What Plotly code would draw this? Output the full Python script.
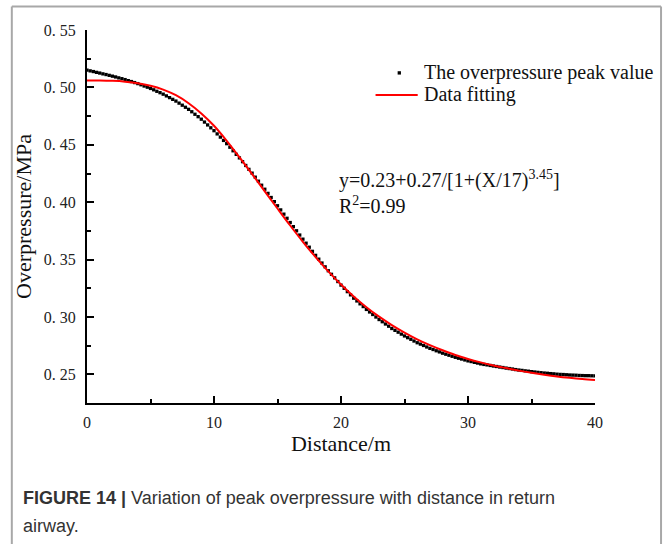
import plotly.graph_objects as go

# ---- data ----
distance_dots = [i * 0.25 for i in range(161)]
overpressure_dots = [
    0.5150, 0.5144, 0.5138, 0.5131, 0.5125, 0.5118, 0.5112, 0.5105,
    0.5098, 0.5091, 0.5083, 0.5076, 0.5068, 0.5059, 0.5051, 0.5042,
    0.5033, 0.5023, 0.5012, 0.5002, 0.4991, 0.4979, 0.4966, 0.4954,
    0.4941, 0.4926, 0.4911, 0.4896, 0.4881, 0.4863, 0.4845, 0.4827,
    0.4809, 0.4788, 0.4766, 0.4745, 0.4723, 0.4698, 0.4673, 0.4648,
    0.4623, 0.4595, 0.4567, 0.4538, 0.4510, 0.4479, 0.4448, 0.4417,
    0.4386, 0.4353, 0.4320, 0.4286, 0.4253, 0.4218, 0.4183, 0.4148,
    0.4113, 0.4077, 0.4041, 0.4005, 0.3969, 0.3933, 0.3896, 0.3860,
    0.3823, 0.3787, 0.3751, 0.3714, 0.3678, 0.3643, 0.3608, 0.3572,
    0.3537, 0.3504, 0.3470, 0.3437, 0.3403, 0.3372, 0.3341, 0.3309,
    0.3278, 0.3250, 0.3221, 0.3193, 0.3164, 0.3140, 0.3115, 0.3091,
    0.3066, 0.3044, 0.3022, 0.3000, 0.2978, 0.2959, 0.2939, 0.2920,
    0.2900, 0.2884, 0.2868, 0.2851, 0.2835, 0.2820, 0.2806, 0.2791,
    0.2776, 0.2764, 0.2752, 0.2739, 0.2727, 0.2717, 0.2706, 0.2696,
    0.2685, 0.2676, 0.2667, 0.2658, 0.2649, 0.2641, 0.2634, 0.2626,
    0.2618, 0.2612, 0.2605, 0.2599, 0.2592, 0.2587, 0.2583, 0.2578,
    0.2573, 0.2569, 0.2564, 0.2560, 0.2555, 0.2551, 0.2547, 0.2542,
    0.2538, 0.2535, 0.2531, 0.2528, 0.2524, 0.2521, 0.2518, 0.2515,
    0.2512, 0.2510, 0.2507, 0.2505, 0.2502, 0.2500, 0.2499, 0.2497,
    0.2495, 0.2494, 0.2493, 0.2491, 0.2490, 0.2489, 0.2489, 0.2488,
    0.2487,
]

distance_fit = list(range(41))
overpressure_fit = [
    0.5060, 0.5060, 0.5057, 0.5050, 0.5037, 0.5015, 0.4981, 0.4932, 0.4862, 0.4773,
    0.4666, 0.4535, 0.4392, 0.4245, 0.4095, 0.3945, 0.3797, 0.3655, 0.3522, 0.3398,
    0.3283, 0.3179, 0.3085, 0.3003, 0.2930, 0.2865, 0.2806, 0.2755, 0.2710, 0.2669,
    0.2635, 0.2605, 0.2578, 0.2555, 0.2533, 0.2514, 0.2497, 0.2482, 0.2470, 0.2460,
    0.2452,
]

x_ticks = [0, 10, 20, 30, 40]
y_ticks = [0.25, 0.30, 0.35, 0.40, 0.45, 0.50, 0.55]
y_tick_text = ["0. 25", "0. 30", "0. 35", "0. 40", "0. 45", "0. 50", "0. 55"]

legend_names = ["The overpressure peak value", "Data fitting"]

SERIF = "Liberation Serif, Times New Roman, serif"
SANS = "Liberation Sans, Arial, sans-serif"
TXT = "#111"

fig = go.Figure()
fig.add_trace(go.Scatter(
    x=distance_dots, y=overpressure_dots, mode="markers",
    name=legend_names[0], showlegend=False,
    marker=dict(symbol="square", size=3.3, color="black", line=dict(width=0)),
))
fig.add_trace(go.Scatter(
    x=distance_fit, y=overpressure_fit, mode="lines", line_shape="spline",
    name=legend_names[1], showlegend=False,
    line=dict(color="#ff0000", width=2),
))

axis_common = dict(
    showline=True, linecolor="black", linewidth=2, mirror=False,
    ticks="inside", tickcolor="black", tickwidth=1.8, ticklen=7,
    showgrid=False, zeroline=False,
    tickfont=dict(family=SERIF, size=16, color="#222"),
)

fig.update_xaxes(
    range=[0, 40], tickvals=x_ticks,
    minor=dict(ticks="inside", dtick=5, ticklen=4, tickwidth=1.8, tickcolor="black"),
    title=dict(text="Distance/m", font=dict(family=SERIF, size=22, color=TXT), standoff=2),
    ticklabelstandoff=4,
    **axis_common,
)
fig.update_yaxes(
    range=[0.2251, 0.55], tickvals=y_ticks, ticktext=y_tick_text,
    minor=dict(ticks="inside", dtick=0.025, tick0=0.25, ticklen=4, tickwidth=1.8, tickcolor="black"),
    title=dict(text="Overpressure/MPa", font=dict(family=SERIF, size=22, color=TXT), standoff=6),
    ticklabelstandoff=6,
    **axis_common,
)

# manual legend (matches the reference's long red sample line)
leg_y1, leg_y2 = 0.885, 0.826
fig.add_shape(type="rect", xref="paper", yref="paper",
              x0=0.6115, x1=0.6180, y0=leg_y1 - 0.0045, y1=leg_y1 + 0.0045,
              fillcolor="black", line=dict(width=0))
fig.add_shape(type="line", xref="paper", yref="paper",
              x0=0.568, x1=0.651, y0=leg_y2, y1=leg_y2,
              line=dict(color="#ff0000", width=2))

fig.update_layout(
    width=667, height=544,
    margin=dict(l=87, r=72, t=30, b=141, pad=0),
    paper_bgcolor="white", plot_bgcolor="white",
    showlegend=False,
    annotations=[
        dict(xref="paper", yref="paper", x=0.659, y=leg_y1, xanchor="left", yanchor="middle",
             text=legend_names[0], showarrow=False,
             font=dict(family=SERIF, size=20, color=TXT)),
        dict(xref="paper", yref="paper", x=0.659, y=leg_y2, xanchor="left", yanchor="middle",
             text=legend_names[1], showarrow=False,
             font=dict(family=SERIF, size=20, color=TXT)),
        dict(xref="paper", yref="paper", x=0.492, y=0.600, xanchor="left", yanchor="middle",
             text="y=0.23+0.27/[1+(X/17)<sup>3.45</sup>]", showarrow=False,
             font=dict(family=SERIF, size=20, color=TXT)),
        dict(xref="paper", yref="paper", x=0.492, y=0.531, xanchor="left", yanchor="middle",
             text="R<sup>2</sup>=0.99", showarrow=False,
             font=dict(family=SERIF, size=20, color=TXT)),
        dict(xref="paper", yref="paper", x=-0.130, y=-0.256, xanchor="left", yanchor="middle",
             text="<b>FIGURE 14 |</b> Variation of peak overpressure with distance in return",
             showarrow=False, font=dict(family=SANS, size=18, color="#333")),
        dict(xref="paper", yref="paper", x=-0.130, y=-0.329, xanchor="left", yanchor="middle",
             text="airway.", showarrow=False, font=dict(family=SANS, size=18, color="#333")),
    ],
    shapes=list(fig.layout.shapes) + [
        dict(type="line", xref="paper", yref="paper", x0=-0.148, x1=1.13, y0=1.063, y1=1.063,
             line=dict(color="#a8a8a8", width=2)),
        dict(type="line", xref="paper", yref="paper", x0=-0.148, x1=-0.148, y0=1.063, y1=-0.4,
             line=dict(color="#a8a8a8", width=2)),
        dict(type="line", xref="paper", yref="paper", x0=1.13, x1=1.13, y0=1.063, y1=-0.4,
             line=dict(color="#a8a8a8", width=2)),
    ],
)

fig.write_html("out.html")
